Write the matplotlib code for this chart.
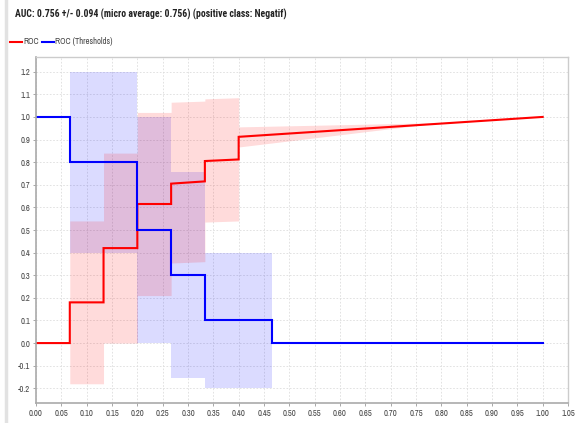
import matplotlib
matplotlib.use("Agg")
import matplotlib.pyplot as plt
from matplotlib.lines import Line2D
import logging
logging.getLogger('matplotlib.font_manager').setLevel(logging.ERROR)

# ---- data ----
roc_x = [0.0, 0.0667, 0.0667, 0.1333, 0.1333, 0.2, 0.2, 0.2667, 0.2667, 0.3333, 0.3333, 0.4, 0.4, 1.0]
roc_y = [0.0, 0.0, 0.18, 0.18, 0.42, 0.42, 0.615, 0.615, 0.705, 0.715, 0.805, 0.812, 0.912, 1.0]

roc_band_x = [0.0667, 0.1333, 0.1333, 0.2, 0.2, 0.2667, 0.2667, 0.3333, 0.3333, 0.4, 0.4, 0.8, 1.0]
roc_band_hi = [0.54, 0.54, 0.84, 0.84, 1.02, 1.02, 1.065, 1.07, 1.08, 1.085, 0.956, 0.975, 1.0]
roc_band_lo = [-0.18, -0.18, 0.0, 0.0, 0.21, 0.21, 0.354, 0.36, 0.535, 0.54, 0.867, 0.975, 1.0]

thr_x = [0.0, 0.0667, 0.0667, 0.2, 0.2, 0.2667, 0.2667, 0.3333, 0.3333, 0.4667, 0.4667, 1.0]
thr_y = [1.0, 1.0, 0.8, 0.8, 0.5, 0.5, 0.3, 0.3, 0.1, 0.1, 0.0, 0.0]

thr_band_x = [0.0667, 0.2, 0.2, 0.2667, 0.2667, 0.3333, 0.3333, 0.4667]
thr_band_hi = [1.2, 1.2, 1.0, 1.0, 0.755, 0.755, 0.4, 0.4]
thr_band_lo = [0.4, 0.4, 0.0, 0.0, -0.155, -0.155, -0.2, -0.2]

x_ticks = [round(0.05 * i, 2) for i in range(22)]
y_ticks = [round(-0.2 + 0.1 * i, 1) for i in range(15)]

title = "AUC: 0.756 +/- 0.094 (micro average: 0.756) (positive class: Negatif)"
series_names = ["ROC", "ROC (Thresholds)"]
red = "#ff0000"
blue = "#0000ff"

FAM = ['Liberation Sans Narrow', 'Archivo Narrow', 'Roboto Condensed', 'Liberation Sans', 'DejaVu Sans']
TITLE_FAM = ['Liberation Sans Narrow', 'Roboto Condensed', 'Asap Condensed', 'DejaVu Sans']
plt.rcParams['font.family'] = FAM

fig = plt.figure(figsize=(5.75, 4.23), dpi=100)
ax = fig.add_axes([36/575, 1-403/423, (568-36)/575, (403-57)/423])

ax.fill_between(thr_band_x, thr_band_lo, thr_band_hi, color=blue, alpha=0.14, linewidth=0)
ax.fill_between(roc_band_x, roc_band_lo, roc_band_hi, color=red, alpha=0.14, linewidth=0)
ax.plot(roc_x, roc_y, color=red, lw=1.5, solid_joinstyle='miter')
ax.plot(thr_x, thr_y, color=blue, lw=1.5, solid_joinstyle='miter')

ax.set_xlim(0, 1.05)
ax.set_ylim(-0.265, 1.265)
ax.set_xticks(x_ticks)
ax.set_xticklabels([f"{v:.2f}" for v in x_ticks])
ax.set_yticks(y_ticks)
ax.set_yticklabels([f"{v:.1f}" for v in y_ticks])
ax.tick_params(labelsize=6.2, colors="#444444", length=2, width=0.6, pad=2)
ax.tick_params(axis='both', color="#999999")
ax.grid(True, color="#dddddd", linestyle=(0, (2, 2)), linewidth=0.6)
ax.set_axisbelow(True)
for s in ["left", "bottom"]:
    ax.spines[s].set_color("#aaaaaa")
    ax.spines[s].set_linewidth(1.2)
for s in ["top", "right"]:
    ax.spines[s].set_color("#cccccc")
    ax.spines[s].set_linewidth(1.0)

# title
fig.text(15/575, 1-14/423, title, fontsize=7.0, fontweight='bold', color="#222222",
         ha='left', va='center', family=TITLE_FAM)

# legend
ly = 1 - 42/423
fig.add_artist(Line2D([10/575, 22/575], [ly, ly], color=red, lw=1.5))
fig.text(23/575, ly, series_names[0], fontsize=6.2, color="#444444", ha='left', va='center')
fig.add_artist(Line2D([42/575, 54/575], [ly, ly], color=blue, lw=1.5))
fig.text(55/575, ly, series_names[1], fontsize=6.2, color="#444444", ha='left', va='center')

# panel border on left
fig.add_artist(Line2D([6/575, 6/575], [0, 1], color="#e2e2e2", lw=2.5))

fig.savefig("out.png", dpi=100)
